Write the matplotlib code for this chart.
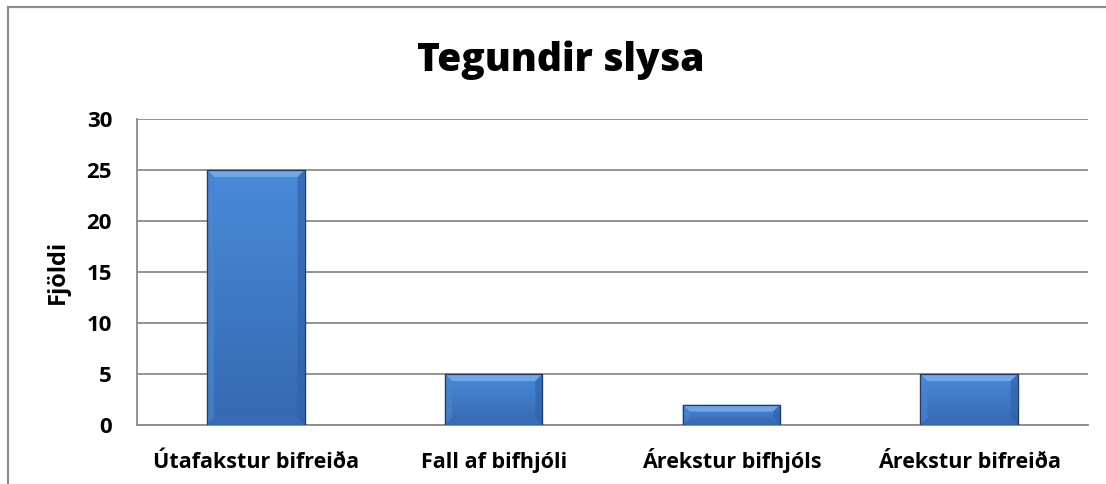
import numpy as np
import matplotlib
matplotlib.use("Agg")
import matplotlib.pyplot as plt
from matplotlib.patches import Rectangle, Polygon
from matplotlib.transforms import IdentityTransform

# ---- data ----
categories = ["Útafakstur bifreiða", "Fall af bifhjóli", "Árekstur bifhjóls", "Árekstur bifreiða"]
counts = [25, 5, 2, 5]
y_ticks = [0, 5, 10, 15, 20, 25, 30]

TITLE = "Tegundir slysa"
Y_LABEL = "Fjöldi"

# ---- theme ----
FONT = ["Open Sans", "DejaVu Sans"]
GRID = "#8a8a8a"
FACE_TOP = np.array([0x4a, 0x8a, 0xd8]) / 255
FACE_BOT = np.array([0x35, 0x69, 0xb2]) / 255
EDGE = "#1f3d68"

plt.rcParams["font.family"] = FONT

W, H = 1106, 484
fig = plt.figure(figsize=(W / 100, H / 100), dpi=100, facecolor="white")
ax = fig.add_axes([137 / W, 1 - 425 / H, (1088 - 137) / W, (425 - 119) / H])

# outer chart border (cropped on right/bottom)
fig.patches.append(Rectangle((8 / W, -0.05), 1.2, 1 - 7 / H + 0.05,
                             transform=fig.transFigure, fill=False,
                             edgecolor="#8c8c8c", linewidth=1.6))

x = np.arange(len(categories))
bars = ax.bar(x, counts, width=0.41, color="#3d78c8", edgecolor=EDGE,
              linewidth=0.8, zorder=3)

ax.set_xlim(-0.5, len(categories) - 0.5)
ax.set_ylim(0, 30)
ax.set_yticks(y_ticks)
ax.set_xticks(x)
ax.set_xticklabels(categories, fontsize=15.5, fontweight="bold", va="baseline")
ax.tick_params(axis="y", labelsize=16, length=0, pad=18)
ax.tick_params(axis="x", length=0, pad=31)
for lab in ax.get_yticklabels():
    lab.set_fontweight("bold")

ax.yaxis.grid(True, color=GRID, linewidth=1.3, zorder=0)
ax.set_axisbelow(True)
for s in ["top", "right"]:
    ax.spines[s].set_visible(False)
ax.spines["left"].set_color(GRID)
ax.spines["left"].set_linewidth(1.3)
ax.spines["bottom"].set_color(GRID)
ax.spines["bottom"].set_linewidth(1.3)

ax.set_ylabel(Y_LABEL, fontsize=17, fontweight="bold", labelpad=12)
fig.text(0.507, 1 - 60 / H, TITLE, ha="center", va="center",
         fontsize=28, fontweight="heavy")

# ---- bevel effect on bars ----
grad = np.linspace(0, 1, 64)[:, None]
img = FACE_TOP[None, None, :] * (1 - grad[..., None]) + FACE_BOT[None, None, :] * grad[..., None]
for b in bars:
    x0, w, h = b.get_x(), b.get_width(), b.get_height()
    im = ax.imshow(img, extent=(x0, x0 + w, 0, h), aspect="auto", zorder=3.1,
                   origin="upper")
    im.set_clip_path(b)
    ext = b.get_window_extent()
    l, r, bt, tp = ext.x0, ext.x1, ext.y0, ext.y1
    bv = min(7, (tp - bt) / 2.2)
    pieces = [
        ([(l, tp), (r, tp), (r - bv, tp - bv), (l + bv, tp - bv)], "#82b6ee"),
        ([(l, tp), (l + bv, tp - bv), (l + bv, bt + bv), (l, bt)], "#4885d2"),
        ([(r, tp), (r - bv, tp - bv), (r - bv, bt + bv), (r, bt)], "#3163ab"),
        ([(l, bt), (l + bv, bt + bv), (r - bv, bt + bv), (r, bt)], "#3a6db5"),
    ]
    for pts, c in pieces:
        ax.add_patch(Polygon(pts, closed=True, transform=IdentityTransform(),
                             facecolor=c, edgecolor="none", alpha=0.7, zorder=3.2))
    ax.add_patch(Rectangle((x0, 0), w, h, fill=False, edgecolor=EDGE,
                           linewidth=0.9, zorder=3.3))

fig.savefig("out.png", dpi=100, facecolor="white")
